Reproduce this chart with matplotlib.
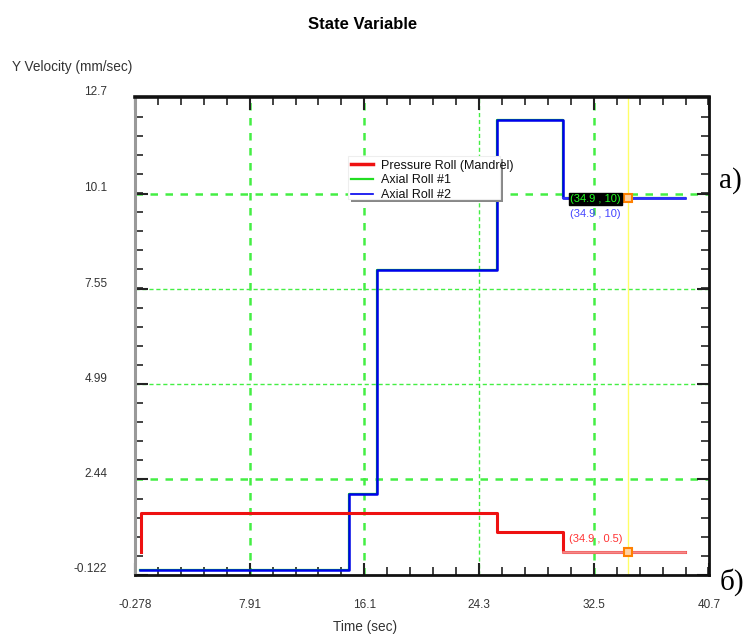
import numpy as np
import matplotlib
matplotlib.use("Agg")
import matplotlib.pyplot as plt
import matplotlib.transforms as mtransforms
from matplotlib.lines import Line2D
from matplotlib.patches import Rectangle
from matplotlib.ticker import FixedLocator, AutoMinorLocator

# ---- data ----
x_ticks = [-0.278, 7.91, 16.1, 24.3, 32.5, 40.7]
x_tick_labels = ["-0.278", "7.91", "16.1", "24.3", "32.5", "40.7"]
y_ticks = [-0.122, 2.44, 4.99, 7.55, 10.1, 12.7]
y_tick_labels = ["-0.122", "2.44", "4.99", "7.55", "10.1", "12.7"]

pressure_t = [0.15, 0.15, 25.6, 30.3, 39.0]
pressure_v = [0.5, 1.54, 1.03, 0.5, 0.5]

axial1_t = [0.1, 15.0, 17.0, 25.6, 30.3, 39.0]
axial1_v = [0.0, 2.05, 8.06, 12.08, 10.0, 10.0]

axial2_t = [0.1, 15.0, 17.0, 25.6, 30.3, 39.0]
axial2_v = [0.0, 2.05, 8.06, 12.08, 10.0, 10.0]

cursor_t = 34.9
cursor_axial = 10
cursor_pressure = 0.5

series_names = ["Pressure Roll (Mandrel)", "Axial Roll #1", "Axial Roll #2"]

# ---- figure ----
plt.rcParams["font.family"] = ["Liberation Sans", "DejaVu Sans"]
fig = plt.figure(figsize=(7.47, 6.35), dpi=100)
ax = fig.add_axes([0.1807, 0.0945, 0.7684, 0.7527])
ax.set_xlim(x_ticks[0], x_ticks[-1])
ax.set_ylim(y_ticks[0], y_ticks[-1])

# grid
green = "#44ee44"
v_grid_thick = [True, True, False, True]
for xv, thick in zip(x_ticks[1:-1], v_grid_thick):
    ax.axvline(xv, color=green, lw=1.8 if thick else 1.0,
               dashes=(3, 3) if thick else (3, 2), zorder=1)
h_grid_thick = [True, False, False, True]
for yv, thick in zip(y_ticks[1:-1], h_grid_thick):
    ax.axhline(yv, color=green, lw=1.8 if thick else 1.0,
               dashes=(3, 3) if thick else (3, 2), zorder=1)

# cursor line
ax.axvline(cursor_t, color="#ffff66", lw=1.0, zorder=1.5)

# series
ax.plot(axial1_t, axial1_v, drawstyle="steps-post", color="#00dd00", lw=1.6, zorder=2)
ax.plot(axial2_t, axial2_v, drawstyle="steps-post", color="#0000ee", lw=1.8, zorder=3)
ax.plot(axial2_t[-2:], axial2_v[-2:], color="#3333ff", lw=1.3, zorder=3.1)
ax.plot(pressure_t, pressure_v, drawstyle="steps-post", color="#ee1111", lw=2.2, zorder=4)
ax.plot(pressure_t[-2:], pressure_v[-2:], color="#f48a8a", lw=1.8, zorder=4.1)

# cursor markers
ax.plot([cursor_t, cursor_t], [cursor_axial, cursor_pressure], ls="none", marker="s",
        ms=6, mfc="#ffd0a0", mec="#ff8000", mew=1.5, zorder=6)

# cursor readouts
ax.annotate(f"({cursor_t} , {cursor_axial})", (cursor_t, cursor_axial),
            xytext=(-5, -1), textcoords="offset points", ha="right", va="center",
            fontsize=8, color="#22ff22",
            bbox=dict(boxstyle="square,pad=0.12", fc="black", ec="black"), zorder=7)
ax.annotate(f"({cursor_t} , {cursor_axial})", (cursor_t, cursor_axial),
            xytext=(-5, -12), textcoords="offset points", ha="right", va="center",
            fontsize=8, color="#4444ff", zorder=7)
ax.annotate(f"({cursor_t} , {cursor_pressure})", (cursor_t, cursor_pressure),
            xytext=(-4, 9), textcoords="offset points", ha="right", va="center",
            fontsize=8, color="#ff3333", zorder=7)

# ticks
ax.xaxis.set_major_locator(FixedLocator(x_ticks))
ax.yaxis.set_major_locator(FixedLocator(y_ticks))
ax.set_xticklabels(x_tick_labels)
ax.set_yticklabels(y_tick_labels)
ax.xaxis.set_minor_locator(AutoMinorLocator(5))
ax.yaxis.set_minor_locator(AutoMinorLocator(5))
ax.tick_params(which="both", direction="in", top=True, right=True, colors="#222222",
               labelcolor="#333333", labelsize=8.5)
ax.tick_params(which="major", length=9, width=1.5)
ax.tick_params(which="minor", length=6, width=1.2)
ax.tick_params(axis="x", which="major", pad=17)
ax.tick_params(axis="y", which="major", pad=20)

# y tick labels sit slightly above their ticks
lift = mtransforms.ScaledTranslation(0, 0.07, fig.dpi_scale_trans)
for lbl in ax.get_yticklabels():
    lbl.set_transform(lbl.get_transform() + lift)

for side, (col, lw) in {"left": ("#999999", 2.2), "bottom": ("#111111", 2.0),
                        "top": ("#111111", 2.6), "right": ("#111111", 2.0)}.items():
    ax.spines[side].set_color(col)
    ax.spines[side].set_linewidth(lw)

# legend panel with drop shadow
box_x0, box_x1, box_y0, box_y1 = 0.371, 0.636, 0.787, 0.877
ax.add_patch(Rectangle((box_x0 + 0.006, box_y0 - 0.007), box_x1 - box_x0, box_y1 - box_y0,
                       transform=ax.transAxes, fc="#888888", ec="none", zorder=4.8))
ax.add_patch(Rectangle((box_x0, box_y0), box_x1 - box_x0, box_y1 - box_y0,
                       transform=ax.transAxes, fc="white", ec="#eeeeee", lw=0.8, zorder=4.9))
handles = [Line2D([], [], color="#ee1111", lw=2.5),
           Line2D([], [], color="#22dd22", lw=1.6),
           Line2D([], [], color="#0000ee", lw=1.2)]
leg = ax.legend(handles, series_names, loc="upper left", bbox_to_anchor=(0.376, 0.869),
                prop=dict(size=9), frameon=False,
                handlelength=1.8, handletextpad=0.6, labelspacing=0.22,
                borderpad=0.0, borderaxespad=0)
for txt in leg.get_texts():
    txt.set_color("#111111")
leg.set_zorder(5)

# titles and labels
fig.text(0.486, 0.962, "State Variable", ha="center", va="center",
         fontsize=12, fontweight="bold")
fig.text(0.016, 0.894, "Y Velocity (mm/sec)", ha="left", va="center",
         fontsize=9.8, color="#333333")
fig.text(0.489, 0.012, "Time (sec)", ha="center", va="center",
         fontsize=9.8, color="#333333")

fig.text(0.963, 0.716, "a)", ha="left", va="center", fontsize=21,
         family="Liberation Serif")
fig.text(0.963, 0.083, "б)", ha="left", va="center", fontsize=21,
         family="Liberation Serif")

fig.savefig("out.png", dpi=100)
